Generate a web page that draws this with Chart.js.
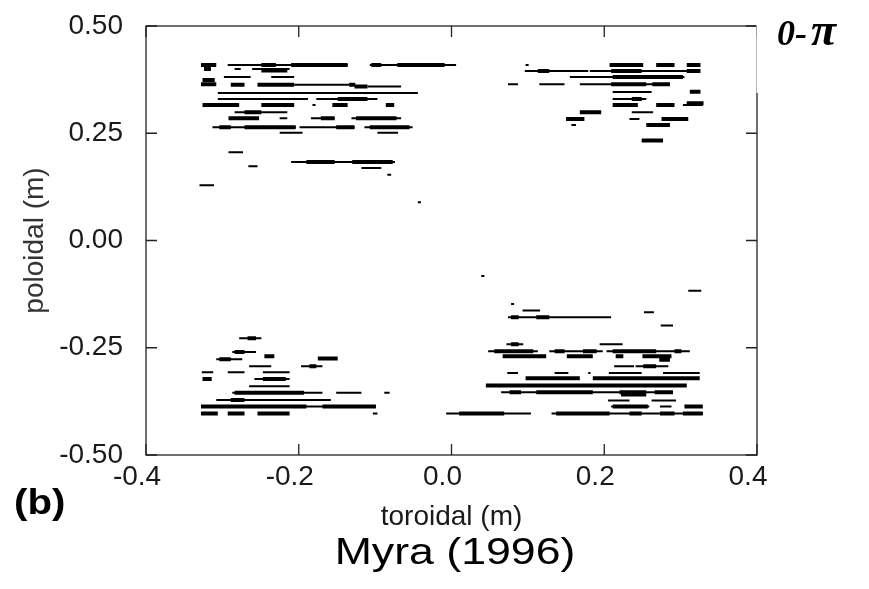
<!DOCTYPE html>
<html>
<head>
<meta charset="utf-8">
<script src="https://cdn.jsdelivr.net/npm/chart.js@4.4.1/dist/chart.umd.min.js"></script>
<style>
  html, body { margin: 0; padding: 0; background: #fff; }
</style>
</head>
<body>
<canvas id="blobChart" width="869" height="589"></canvas>
<script>
// each segment: [poloidal (m), toroidal start (m), toroidal end (m)]
var upperLeftThin = [
  [0.409, -0.293, -0.136], [0.409, -0.107, 0.006], [0.400, -0.284, -0.276], [0.400, -0.261, -0.212],
  [0.381, -0.298, -0.263], [0.381, -0.236, -0.206], [0.363, -0.206, -0.134], [0.359, -0.110, -0.066],
  [0.344, -0.306, -0.044], [0.330, -0.306, -0.188], [0.330, -0.177, -0.097], [0.316, -0.182, -0.178],
  [0.299, -0.284, -0.215], [0.285, -0.225, -0.215], [0.285, -0.184, -0.153], [0.285, -0.131, -0.066],
  [0.264, -0.313, -0.204], [0.264, -0.199, -0.127], [0.264, -0.114, -0.051], [0.251, -0.225, -0.195],
  [0.251, -0.097, -0.070], [0.206, -0.292, -0.273], [0.183, -0.210, -0.074], [0.173, -0.266, -0.254],
  [0.169, -0.118, -0.092], [0.153, -0.084, -0.079], [0.129, -0.330, -0.311], [0.089, -0.044, -0.040]
];
var upperLeftThick = [
  [0.409, -0.328, -0.308], [0.409, -0.249, -0.230], [0.409, -0.210, -0.136], [0.409, -0.105, -0.092],
  [0.409, -0.071, -0.009], [0.400, -0.324, -0.315], [0.396, -0.249, -0.215], [0.374, -0.326, -0.310],
  [0.364, -0.328, -0.308], [0.363, -0.289, -0.271], [0.363, -0.254, -0.206], [0.363, -0.134, -0.126],
  [0.359, -0.127, -0.110], [0.330, -0.149, -0.110], [0.316, -0.326, -0.278], [0.316, -0.249, -0.206],
  [0.316, -0.156, -0.136], [0.316, -0.086, -0.075], [0.299, -0.271, -0.249], [0.285, -0.292, -0.252],
  [0.285, -0.171, -0.153], [0.285, -0.125, -0.072], [0.264, -0.304, -0.289], [0.264, -0.271, -0.204],
  [0.264, -0.151, -0.127], [0.264, -0.107, -0.055], [0.183, -0.190, -0.153], [0.183, -0.130, -0.077]
];
var upperRightThin = [
  [0.409, 0.097, 0.101], [0.395, 0.096, 0.179], [0.395, 0.181, 0.325], [0.381, 0.155, 0.305],
  [0.364, 0.074, 0.087], [0.364, 0.115, 0.148], [0.364, 0.168, 0.286], [0.346, 0.211, 0.262],
  [0.330, 0.211, 0.255], [0.316, 0.303, 0.329], [0.299, 0.236, 0.264], [0.283, 0.233, 0.246],
  [0.269, 0.157, 0.163]
];
var upperRightThick = [
  [0.409, 0.207, 0.251], [0.409, 0.268, 0.292], [0.409, 0.308, 0.326], [0.395, 0.113, 0.128],
  [0.395, 0.209, 0.249], [0.395, 0.308, 0.326], [0.381, 0.211, 0.303], [0.364, 0.209, 0.255],
  [0.364, 0.263, 0.286], [0.347, 0.312, 0.326], [0.330, 0.236, 0.249], [0.320, 0.308, 0.330],
  [0.316, 0.211, 0.244], [0.316, 0.268, 0.292], [0.299, 0.168, 0.196], [0.283, 0.150, 0.174],
  [0.283, 0.275, 0.310], [0.269, 0.255, 0.286], [0.233, 0.249, 0.277]
];
var lowerLeftThin = [
  [-0.228, -0.278, -0.249], [-0.260, -0.287, -0.256], [-0.277, -0.308, -0.274], [-0.293, -0.265, -0.236],
  [-0.293, -0.197, -0.169], [-0.307, -0.327, -0.312], [-0.307, -0.293, -0.271], [-0.307, -0.247, -0.212],
  [-0.323, -0.258, -0.212], [-0.340, -0.265, -0.212], [-0.355, -0.287, -0.169], [-0.355, -0.151, -0.118],
  [-0.355, -0.088, -0.081], [-0.372, -0.308, -0.158], [-0.387, -0.328, -0.099], [-0.403, -0.103, -0.097]
];
var lowerLeftThick = [
  [-0.228, -0.267, -0.256], [-0.260, -0.284, -0.271], [-0.270, -0.245, -0.232], [-0.277, -0.304, -0.289],
  [-0.275, -0.175, -0.149], [-0.293, -0.186, -0.177], [-0.323, -0.326, -0.314], [-0.323, -0.247, -0.217],
  [-0.355, -0.284, -0.193], [-0.372, -0.289, -0.271], [-0.387, -0.328, -0.190], [-0.387, -0.169, -0.099],
  [-0.403, -0.328, -0.306], [-0.403, -0.293, -0.271], [-0.403, -0.254, -0.212]
];
var lowerRightThin = [
  [-0.083, 0.039, 0.043], [-0.117, 0.310, 0.327], [-0.148, 0.078, 0.082], [-0.163, 0.093, 0.116],
  [-0.167, 0.252, 0.265], [-0.179, 0.074, 0.209], [-0.198, 0.274, 0.290], [-0.242, 0.072, 0.094],
  [-0.242, 0.194, 0.224], [-0.258, 0.048, 0.113], [-0.258, 0.128, 0.198], [-0.258, 0.203, 0.312],
  [-0.293, 0.213, 0.239], [-0.293, 0.241, 0.284], [-0.309, 0.073, 0.087], [-0.309, 0.135, 0.153],
  [-0.309, 0.179, 0.182], [-0.309, 0.206, 0.249], [-0.309, 0.277, 0.325], [-0.354, 0.065, 0.290],
  [-0.373, 0.205, 0.233], [-0.373, 0.262, 0.294], [-0.387, 0.209, 0.259], [-0.387, 0.273, 0.288],
  [-0.403, -0.007, 0.104], [-0.403, 0.131, 0.329]
];
var lowerRightThick = [
  [-0.179, 0.078, 0.088], [-0.179, 0.111, 0.128], [-0.242, 0.078, 0.088], [-0.258, 0.056, 0.107],
  [-0.258, 0.135, 0.148], [-0.258, 0.172, 0.190], [-0.258, 0.211, 0.268], [-0.258, 0.292, 0.301],
  [-0.270, 0.067, 0.124], [-0.270, 0.151, 0.185], [-0.270, 0.215, 0.225], [-0.270, 0.250, 0.288],
  [-0.278, 0.272, 0.286], [-0.293, 0.251, 0.268], [-0.321, 0.097, 0.168], [-0.321, 0.185, 0.325],
  [-0.338, 0.045, 0.308], [-0.354, 0.076, 0.091], [-0.354, 0.111, 0.185], [-0.354, 0.220, 0.255],
  [-0.354, 0.266, 0.290], [-0.359, 0.222, 0.255], [-0.387, 0.211, 0.257], [-0.387, 0.305, 0.329],
  [-0.403, 0.010, 0.069], [-0.403, 0.137, 0.207], [-0.403, 0.233, 0.249], [-0.403, 0.273, 0.292],
  [-0.403, 0.303, 0.329]
];

var xTicks = [-0.4, -0.2, 0, 0.2, 0.4];
var xTickLabels = ['-0.4', '-0.2', '0.0', '0.2', '0.4'];
var yTicks = [-0.5, -0.25, 0, 0.25, 0.5];
var yTickLabels = ['-0.50', '-0.25', '0.00', '0.25', '0.50'];

var FONT = "'Liberation Sans', Arial, sans-serif";
var SERIF = "'Liberation Serif', 'Times New Roman', serif";
var INK = '#1a1a1a';

// turn segments into one broken line (null y breaks the path)
function toPoints(segs) {
  var pts = [];
  segs.forEach(function(s) {
    pts.push({x: s[1], y: s[0]});
    pts.push({x: s[2], y: s[0]});
    pts.push({x: s[2], y: null});
  });
  return pts;
}

function segSet(segs, width) {
  return {
    data: toPoints(segs),
    showLine: true,
    spanGaps: false,
    borderColor: '#000',
    borderWidth: width,
    pointRadius: 0,
    borderCapStyle: 'butt'
  };
}

// box with inward ticks on all four sides, plus loose labels
var frameTicks = {
  id: 'frameTicks',
  afterDraw: function(chart) {
    var ctx = chart.ctx;
    var a = chart.chartArea;
    var xs = chart.scales.x, ys = chart.scales.y;
    var tick = 11;
    ctx.save();
    ctx.strokeStyle = '#222';
    ctx.lineWidth = 1.3;
    ctx.strokeRect(a.left, a.top, a.right - a.left, a.bottom - a.top);
    ctx.beginPath();
    xTicks.forEach(function(v) {
      var px = xs.getPixelForValue(v);
      ctx.moveTo(px, a.bottom); ctx.lineTo(px, a.bottom - tick);
      ctx.moveTo(px, a.top); ctx.lineTo(px, a.top + tick);
    });
    yTicks.forEach(function(v) {
      var py = ys.getPixelForValue(v);
      ctx.moveTo(a.left, py); ctx.lineTo(a.left + tick, py);
      ctx.moveTo(a.right, py); ctx.lineTo(a.right - tick, py);
    });
    ctx.stroke();

    // label box in the corner hides the top of the right border
    ctx.fillStyle = '#fff';
    ctx.fillRect(a.right - 0.5, 0, chart.width - a.right + 1, 93);

    ctx.fillStyle = '#000';
    ctx.textBaseline = 'alphabetic';
    ctx.textAlign = 'left';
    ctx.font = 'bold italic 36px ' + SERIF;
    ctx.fillText('0-', 777, 45);
    ctx.font = 'bold italic 46px ' + SERIF;
    ctx.fillText('\u03c0', 811, 45);

    ctx.save();
    ctx.font = 'bold 35px ' + FONT;
    ctx.translate(14, 514);
    ctx.scale(1.15, 1);
    ctx.fillText('(b)', 0, 0);
    ctx.restore();

    ctx.save();
    ctx.font = '36px ' + FONT;
    ctx.textAlign = 'center';
    ctx.translate(455, 564);
    ctx.scale(1.24, 1);
    ctx.fillText('Myra (1996)', 0, 0);
    ctx.restore();
    ctx.restore();
  }
};

Chart.defaults.font.family = FONT;
Chart.defaults.color = INK;

var ctx = document.getElementById('blobChart').getContext('2d');
var blobChart = new Chart(ctx, {
  type: 'scatter',
  data: {
    datasets: [
      segSet(upperLeftThin, 2), segSet(upperRightThin, 2),
      segSet(lowerLeftThin, 2), segSet(lowerRightThin, 2),
      segSet(upperLeftThick, 4), segSet(upperRightThick, 4),
      segSet(lowerLeftThick, 4), segSet(lowerRightThick, 4)
    ]
  },
  options: {
    responsive: false,
    animation: false,
    layout: { padding: { left: 0, top: 26, right: 112, bottom: 0 } },
    plugins: { legend: { display: false }, tooltip: { enabled: false } },
    scales: {
      x: {
        type: 'linear',
        min: -0.4,
        max: 0.4,
        afterBuildTicks: function(scale) {
          scale.ticks = xTicks.map(function(v) { return {value: v}; });
        },
        afterFit: function(scale) { scale.height = 134; },
        // hidden tick marks only reserve the gap to the labels
        grid: { display: false, drawTicks: true, tickLength: 5 },
        border: { display: false },
        ticks: {
          autoSkip: false,
          maxRotation: 0,
          padding: 0,
          labelOffset: -9,
          font: { size: 28 },
          callback: function(v) { return xTickLabels[xTicks.indexOf(v)]; }
        },
        title: {
          display: true,
          text: 'toroidal (m)',
          font: { size: 28 },
          padding: { top: 0, bottom: 55 }
        }
      },
      y: {
        type: 'linear',
        min: -0.5,
        max: 0.5,
        afterBuildTicks: function(scale) {
          scale.ticks = yTicks.map(function(v) { return {value: v}; });
        },
        afterFit: function(scale) { scale.width = 146; },
        grid: { display: false, drawTicks: true, tickLength: 23 },
        border: { display: false },
        ticks: {
          autoSkip: false,
          padding: 0,
          font: { size: 28 },
          callback: function(v) { return yTickLabels[yTicks.indexOf(v)]; }
        },
        title: {
          display: true,
          text: 'poloidal (m)',
          font: { size: 28 },
          color: '#333',
          padding: { top: 18, bottom: 0 }
        }
      }
    }
  },
  plugins: [frameTicks]
});
</script>
</body>
</html>
